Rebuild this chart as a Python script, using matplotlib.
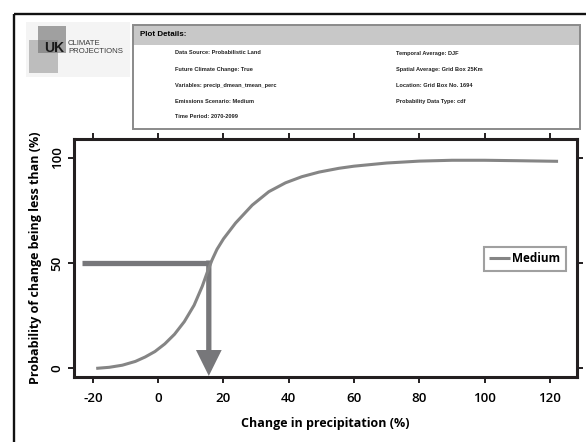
import matplotlib
matplotlib.use("Agg")
import matplotlib.pyplot as plt
from matplotlib.patches import Rectangle

plt.rcParams["axes.unicode_minus"] = False

# ---------------- data ----------------
change_pct = [-19, -15, -11, -7, -4, -1, 2, 5, 8, 11, 13.5, 15, 16.5, 18, 20,
              23.7, 28.8, 33.9, 39, 44, 49.3, 55.4, 60, 70, 80, 90, 100, 110, 122.5]
prob_less = [0.0, 0.5, 1.5, 3.3, 5.4, 8.0, 11.6, 16.2, 22.2, 30.0, 39.0, 45.5,
             51.5, 56.5, 61.5, 69.0, 77.5, 83.9, 88.1, 91.0, 93.2, 95.0, 96.0,
             97.5, 98.4, 98.8, 98.8, 98.6, 98.3]
series_name = "Medium"
median_level = 50
median_change = 15.5
x_ticks = [-20, 0, 20, 40, 60, 80, 100, 120]
y_ticks = [0, 50, 100]
x_label = "Change in precipitation (%)"
y_label = "Probability of change being less than (%)"
details_title = "Plot Details:"
details_left = ["Data Source: Probabilistic Land", "Future Climate Change: True",
                "Variables: precip_dmean_tmean_perc", "Emissions Scenario: Medium",
                "Time Period: 2070-2099"]
details_right = ["Temporal Average: DJF", "Spatial Average: Grid Box 25Km",
                 "Location: Grid Box No. 1694", "Probability Data Type: cdf"]

W, H = 586, 442
FONT = ["Open Sans", "DejaVu Sans"]
fig = plt.figure(figsize=(W / 100, H / 100), dpi=100)

# ---------------- overlay (pixel coords) ----------------
ov = fig.add_axes([0, 0, 1, 1], zorder=0)
ov.set_xlim(0, W)
ov.set_ylim(H, 0)
ov.axis("off")

# outer frame
ov.add_patch(Rectangle((14, 14), 600, 460, fill=False, ec="#111111", lw=1.7))

# logo
ov.add_patch(Rectangle((26, 22), 104, 55, fc="#f4f4f4", ec="none"))
ov.add_patch(Rectangle((38, 26), 28, 27, fc="#a0a0a0", ec="none"))
ov.add_patch(Rectangle((29, 40), 29, 33, fc="#bdbdbd", ec="none"))
ov.add_patch(Rectangle((38, 40), 20, 13, fc="#8e8e8e", ec="none"))
ov.text(44, 47.5, "UK", fontsize=10, fontweight="bold", color="#1a1a1a",
        ha="left", va="center", family=["Liberation Sans"])
ov.text(68, 43.5, "CLIMATE", fontsize=5.6, color="#3a3a3a", ha="left", va="center",
        family=["Liberation Sans Narrow", "Liberation Sans"])
ov.text(68, 51.5, "PROJECTIONS", fontsize=5.6, color="#3a3a3a", ha="left", va="center",
        family=["Liberation Sans Narrow", "Liberation Sans"])

# details box
ov.add_patch(Rectangle((133, 25), 447, 20, fc="#c8c8c8", ec="none"))
ov.add_patch(Rectangle((133, 25), 447, 104, fill=False, ec="#8a8a8a", lw=1.4))
ov.text(140, 35, details_title, fontsize=5.8, fontweight="bold", ha="left",
        va="center", family=["Liberation Sans"])
rows = [53, 69.5, 85.5, 101.5, 117]
for t, y in zip(details_left, rows):
    ov.text(175, y, t, fontsize=4.1, fontweight="bold", ha="left", va="center",
            family=["Liberation Sans"], color="#222222")
for t, y in zip(details_right, rows):
    ov.text(396, y, t, fontsize=4.1, fontweight="bold", ha="left", va="center",
            family=["Liberation Sans"], color="#222222")

# ---------------- main axes ----------------
l, r, t, b = 74, 577, 139, 377
ax = fig.add_axes([l / W, (H - b) / H, (r - l) / W, (b - t) / H], zorder=2)
ax.set_xlim(-25.8, 128.3)
ax.set_ylim(-4.1, 108.9)

ax.plot(change_pct, prob_less, color="#858585", lw=2.2, label=series_name,
        solid_capstyle="butt", solid_joinstyle="round", zorder=3)

arrow_col = "#77777a"
ax.plot([-23.5, median_change], [median_level, median_level], color=arrow_col,
        lw=3.8, solid_capstyle="butt", zorder=2)
ax.annotate("", xy=(median_change, -3.6), xytext=(median_change, median_level + 1.2),
            arrowprops=dict(arrowstyle="-|>,head_length=1.25,head_width=0.62",
                            mutation_scale=10, lw=3.8, color=arrow_col,
                            shrinkA=0, shrinkB=0, joinstyle="miter",
                            capstyle="butt"), zorder=2)

for s in ax.spines.values():
    s.set_linewidth(2.2)
    s.set_color("#231f20")

ax.set_xticks(x_ticks)
ax.set_yticks(y_ticks)
ax.tick_params(direction="out", length=4.5, width=1.4, color="#231f20",
               top=True, right=True, labeltop=False, labelright=False)
ax.tick_params(axis="x", pad=6)
ax.tick_params(axis="y", pad=3)
for lab in ax.get_xticklabels():
    lab.set_fontsize(9.5)
    lab.set_family(FONT)
    lab.set_fontweight("semibold")
for lab in ax.get_yticklabels():
    lab.set_fontsize(9.5)
    lab.set_family(FONT)
    lab.set_rotation(90)
    lab.set_va("center")
    lab.set_fontweight("semibold")

ax.set_xlabel(x_label, fontsize=9, fontweight="bold", family=FONT, labelpad=9)
ax.set_ylabel(y_label, fontsize=9, fontweight="bold", family=FONT, labelpad=6)

leg = ax.legend(loc="center right", bbox_to_anchor=(0.978, 0.496), frameon=True,
                fancybox=False, handlelength=1.75, handletextpad=0.15,
                borderpad=0.5, prop=dict(family=FONT, weight="bold", size=8.5),
                borderaxespad=0)
leg.get_frame().set_edgecolor("#888888")
leg.get_frame().set_linewidth(1.5)

fig.savefig("out.png", dpi=100)
